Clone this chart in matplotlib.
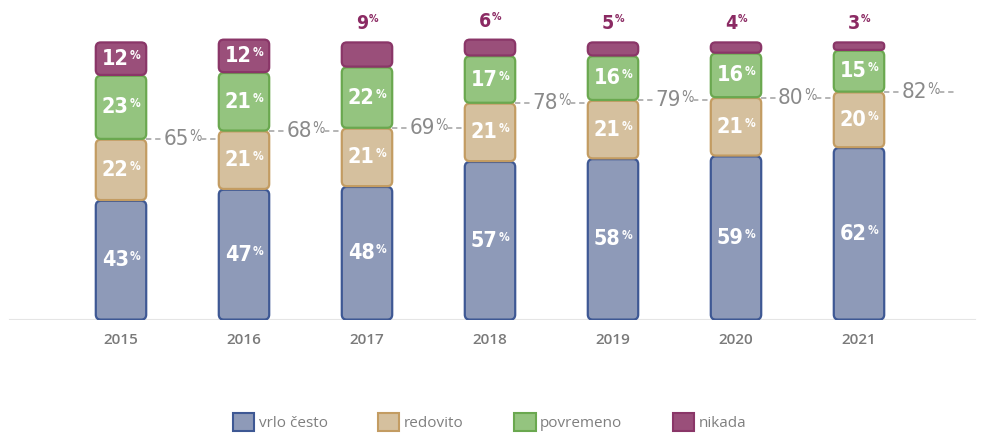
import numpy as np
import matplotlib.pyplot as plt
from matplotlib.patches import FancyBboxPatch, Patch
from matplotlib.offsetbox import TextArea, HPacker, AnnotationBbox

years = ['2015', '2016', '2017', '2018', '2019', '2020', '2021']
vrlo_cesto = [43, 47, 48, 57, 58, 59, 62]
redovito = [22, 21, 21, 21, 21, 21, 20]
povremeno = [23, 21, 22, 17, 16, 16, 15]
nikada = [12, 12, 9, 6, 5, 4, 3]
ukupno = [65, 68, 69, 78, 79, 80, 82]

series = [
    ('vrlo često', vrlo_cesto, '#8e9ab8', '#3e5894'),
    ('redovito', redovito, '#d5c09e', '#c39c62'),
    ('povremeno', povremeno, '#94c47f', '#6aa84f'),
    ('nikada', nikada, '#9a4f7a', '#8a3668'),
]

GREY = '#8a8a8a'

fig = plt.figure(figsize=(9.93, 4.34), dpi=100)
ax = fig.add_axes([0, 114 / 434, 1, 320 / 434])
x = np.arange(len(years))
ax.set_xlim(-121 / 123, (993 - 121) / 123)
ax.set_ylim(0, 320 / 2.78)
width = 0.41

# pixel -> data scale for rounded corners
px_x = 1 / 123
px_y = 1 / 2.78


def pct_label(xx, yy, num, size, color, weight='bold', bg=None, psize=None):
    psize = psize or size * 0.55
    font = dict(color=color, weight=weight, family='DejaVu Sans', stretch='condensed')
    t1 = TextArea(str(num), textprops=dict(fontsize=size, **font))
    t2 = TextArea('%', textprops=dict(fontsize=psize, **font))
    box = HPacker(children=[t1, t2], align='top', pad=0, sep=0.5)
    ab = AnnotationBbox(box, (xx, yy), xycoords='data', frameon=bg is not None,
                        box_alignment=(0.5, 0.5), pad=0.02, zorder=5)
    if bg is not None:
        ab.patch.set_facecolor(bg)
        ab.patch.set_edgecolor('none')
    ax.add_artist(ab)


bottom = np.zeros(len(years))
for name, vals, fc, ec in series:
    bars = ax.bar(x, vals, width, bottom=bottom, color='none', edgecolor='none')
    for rect, v, b, xi in zip(bars, vals, bottom, x):
        h_px = (rect.get_height() - 0.3) / px_y
        rad = min(5, h_px / 2 - 0.5)
        r = FancyBboxPatch((rect.get_x(), rect.get_y() + 0.15), rect.get_width(), rect.get_height() - 0.3,
                           boxstyle='round,pad=0,rounding_size=%f' % (rad * px_x),
                           mutation_aspect=px_y / px_x, facecolor=fc, edgecolor=ec, linewidth=1.6, zorder=3)
        ax.add_patch(r)
        if name == 'nikada' and v < 10:
            pct_label(xi, b + v + 6.5, v, 14, '#8b2a63')
        else:
            pct_label(xi, b + v / 2, v, 15.5, 'white')
    bottom += np.array(vals)

# dashed total line with labels
for i, t in enumerate(ukupno):
    x0 = i + width / 2
    x1 = i + 1 - width / 2 if i < len(years) - 1 else i + 0.78
    ax.plot([x0, x1], [t, t], color='#a0a0a0', lw=1.1, ls=(0, (3.5, 2.5)), zorder=2)
    pct_label(i + 0.5, t, t, 16, GREY, weight='light', bg='white', psize=10.5)

ax.plot([-121 / 123 + 10 * px_x, (975 - 121) / 123], [0, 0], color='#e5e5e5', lw=1.5, zorder=1)

for s in ax.spines.values():
    s.set_visible(False)
ax.set_yticks([])
ax.set_xticks(x)
ax.set_xticklabels(years, fontsize=11, color='#7a7a7a', family='Open Sans', weight='semibold')
ax.tick_params(axis='x', length=0, pad=9)

handles = [Patch(facecolor=fc, edgecolor=ec, linewidth=1.5, label=name) for name, vals, fc, ec in series]
leg = fig.legend(handles=handles, loc='center', bbox_to_anchor=(0.493, 0.028), ncol=4, frameon=False,
                 handlelength=1.4, handleheight=1.4, handletextpad=0.3, columnspacing=3.3,
                 prop=dict(family='Open Sans', size=11))
for txt in leg.get_texts():
    txt.set_color('#7f7f7f')

fig.savefig('out.png', dpi=100)
